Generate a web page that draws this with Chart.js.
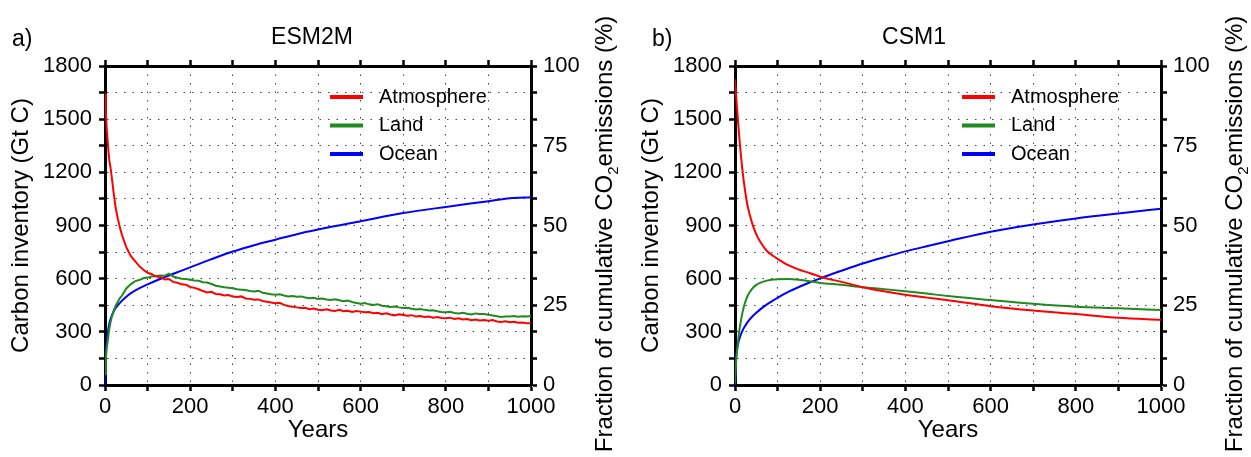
<!DOCTYPE html>
<html>
<head>
<meta charset="utf-8">
<script src="https://cdn.jsdelivr.net/npm/chart.js@4.4.1/dist/chart.umd.min.js"></script>
<style>
  body { margin: 0; background: #fff; }
  #wrap { position: relative; width: 1251px; height: 457px; }
  canvas { position: absolute; top: 0; }
  #esm { left: 0; }
  #csm { left: 630px; }
</style>
</head>
<body>
<div id="wrap">
  <canvas id="esm" width="625" height="457"></canvas>
  <canvas id="csm" width="621" height="457"></canvas>
</div>
<script>
const FONT = '"Liberation Sans", Arial, Helvetica, sans-serif';
const seriesNames = ["Atmosphere", "Land", "Ocean"];
const seriesColors = ["#ff0000", "#1f8a1f", "#0000ff"];

// ESM2M - annual model output, so atmosphere and land are noisy
const esmYears = [0, 2, 4, 6, 8, 10, 13, 16, 20, 25, 30, 35, 40, 50, 60, 70, 80, 90, 100,
  110, 120, 130, 140, 150, 160, 170, 180, 190, 200, 210, 220, 230, 240, 250, 260, 270, 280, 290, 300,
  310, 320, 330, 340, 350, 360, 370, 380, 390, 400, 410, 420, 430, 440, 450, 460, 470, 480, 490, 500,
  510, 520, 530, 540, 550, 560, 570, 580, 590, 600, 610, 620, 630, 640, 650, 660, 670, 680, 690, 700,
  710, 720, 730, 740, 750, 760, 770, 780, 790, 800, 810, 820, 830, 840, 850, 860, 870, 880, 890, 900,
  910, 920, 930, 940, 950, 960, 970, 980, 990, 1000];
const esmAtmos = [1645, 1540, 1450, 1385, 1320, 1270, 1225, 1170, 1090, 1000, 940, 888, 845, 778, 730, 700, 672, 650, 633,
  625, 612, 610, 596, 598, 582, 577, 568, 566, 553, 548, 540, 530, 522, 526, 514, 512, 505, 508, 499,
  496, 500, 488, 486, 481, 483, 474, 470, 466, 462, 464, 452, 446, 441, 438, 434, 436, 428, 432, 425,
  422, 427, 420, 418, 424, 416, 419, 412, 417, 414, 410, 412, 405, 408, 400, 405, 398, 393, 399, 395,
  391, 394, 386, 389, 384, 387, 380, 383, 378, 377, 380, 373, 376, 370, 372, 366, 369, 364, 367, 362,
  366, 358, 356, 360, 354, 357, 351, 353, 348, 349];
const esmLand = [60, 150, 205, 240, 280, 315, 355, 385, 415, 447, 470, 490, 505, 545, 568, 585, 592, 602, 606,
  612, 615, 618, 616, 628, 612, 605, 600, 598, 594, 590, 588, 580, 578, 570, 560, 556, 552, 549, 546,
  540, 538, 536, 530, 528, 532, 520, 516, 512, 509, 512, 505, 500, 502, 498, 500, 494, 490, 492, 486,
  488, 482, 480, 484, 478, 473, 476, 468, 463, 458, 462, 455, 452, 456, 447, 444, 440, 443, 438, 434,
  436, 430, 426, 429, 424, 420, 422, 416, 412, 410, 413, 406, 404, 408, 402, 398, 404, 400, 401, 396,
  392, 388, 384, 387, 386, 389, 385, 388, 386, 390];
const esmOceanYears = [0, 1, 2, 4, 6, 8, 10, 13, 16, 20, 25, 30, 40, 50, 60, 80, 100, 125, 150, 175, 200,
  250, 300, 350, 400, 450, 500, 600, 700, 800, 900, 950, 1000];
const esmOcean = [0, 130, 190, 245, 285, 318, 345, 372, 392, 413, 435, 450, 476, 498, 517, 545, 568, 594, 618, 641, 664,
  710, 753, 789, 820, 851, 877, 924, 970, 1005, 1037, 1054, 1060];

// CSM1 - smooth curves
const csmYears = [0, 1, 2, 3, 5, 7, 10, 13, 16, 20, 25, 30, 40, 50, 60, 75, 90, 100, 125, 150, 175, 200,
  250, 300, 350, 400, 450, 500, 600, 700, 800, 900, 1000];
const csmAtmos = [1725, 1690, 1655, 1620, 1555, 1490, 1400, 1320, 1245, 1160, 1075, 1005, 915, 850, 805, 756, 728, 712, 676, 651, 632, 611,
  582, 552, 529, 509, 493, 478, 445, 420, 400, 379, 368];
const csmLand = [10, 60, 105, 145, 195, 245, 305, 350, 390, 435, 475, 505, 543, 565, 578, 589, 595, 597, 598, 594, 586, 576,
  565, 551, 541, 529, 516, 502, 479, 458, 442, 433, 423];
const csmOcean = [0, 100, 140, 170, 205, 230, 258, 280, 298, 318, 338, 356, 385, 408, 428, 455, 478, 492, 525, 553, 578, 602,
  645, 686, 721, 754, 783, 811, 865, 906, 940, 968, 994];

// axis ticks: left in Gt C, right as percent of 1800 Gt C
const leftLabelStep = 300;
const rightLabelStep = 450;
const totalEmissions = 1800;
const yearLabelStep = 200;

function points(xs, ys) {
  return xs.map((x, i) => ({ x: x, y: ys[i] }));
}

// draws panel letter, title, inset legend and the rotated right-hand axis title
const panelDecor = {
  id: "panelDecor",
  afterDraw(chart, args, o) {
    const ctx = chart.ctx;
    const area = chart.chartArea;
    ctx.save();
    ctx.fillStyle = "#000";
    ctx.textBaseline = "middle";
    ctx.font = "23px " + FONT;
    ctx.textAlign = "left";
    ctx.fillText(o.tag, o.tagX, 40);
    ctx.textAlign = "center";
    ctx.fillText(o.title, o.titleX, 38);

    // legend
    ctx.font = "20px " + FONT;
    ctx.textAlign = "left";
    chart.data.datasets.forEach((ds, i) => {
      const y = 97 + i * 28.5;
      ctx.strokeStyle = ds.borderColor;
      ctx.lineWidth = 4;
      ctx.beginPath();
      ctx.moveTo(area.left + o.legendX, y);
      ctx.lineTo(area.left + o.legendX + 33, y);
      ctx.stroke();
      ctx.fillText(ds.label, area.left + o.legendX + 49, y);
    });

    // right axis title with subscript
    const big = "24px " + FONT, small = "15px " + FONT;
    const p1 = "Fraction of cumulative CO", p2 = "2", p3 = "emissions (%)";
    ctx.font = big;
    const w1 = ctx.measureText(p1).width, w3 = ctx.measureText(p3).width;
    ctx.font = small;
    const w2 = ctx.measureText(p2).width;
    ctx.translate(area.right + 81, 234);
    ctx.rotate(-Math.PI / 2);
    ctx.textBaseline = "alphabetic";
    let x = -(w1 + w2 + w3) / 2;
    ctx.font = big;
    ctx.fillText(p1, x, 0);
    x += w1;
    ctx.font = small;
    ctx.fillText(p2, x, 6);
    x += w2;
    ctx.font = big;
    ctx.fillText(p3, x, 0);
    ctx.restore();
  }
};

function makeScales(rightWidth) {
  const tickMarks = { tickColor: "#000", tickWidth: 2.5, tickLength: 6, tickBorderDash: [] };
  const border = { color: "#000", width: 3 };
  const tickFont = { family: FONT, size: 22 };
  const titleFont = { family: FONT, size: 24 };
  return {
    x: {
      type: "linear", position: "bottom", min: 0, max: 1000,
      ticks: {
        stepSize: 100, autoSkip: false, maxRotation: 0, minRotation: 0, padding: 3,
        color: "#000", font: tickFont,
        callback: v => (v % yearLabelStep === 0 ? String(v) : "")
      },
      grid: Object.assign({ color: "#444", lineWidth: 1 }, tickMarks),
      border: Object.assign({ dash: [1.5, 7] }, border),
      title: { display: true, text: "Years", color: "#000", font: titleFont, padding: { top: 0, bottom: 12 } },
      afterFit: s => { s.height = 72; }
    },
    x2: {
      type: "linear", position: "top", min: 0, max: 1000,
      ticks: { stepSize: 100, display: false, autoSkip: false },
      grid: Object.assign({ drawOnChartArea: false, color: "#000" }, tickMarks),
      border: border,
      afterFit: s => { s.height = 10; }
    },
    y: {
      type: "linear", position: "left", min: 0, max: totalEmissions,
      ticks: {
        stepSize: 150, autoSkip: false, padding: 7, color: "#000", font: tickFont,
        callback: v => (v % leftLabelStep === 0 ? String(v) : "")
      },
      grid: Object.assign({ color: "#444", lineWidth: 1 }, tickMarks),
      border: Object.assign({ dash: [1.5, 7] }, border),
      title: { display: true, text: "Carbon inventory (Gt C)", color: "#000", font: titleFont, padding: { top: 7, bottom: 0 } },
      afterFit: s => { s.width = 105; }
    },
    y2: {
      type: "linear", position: "right", min: 0, max: totalEmissions,
      ticks: {
        stepSize: 150, autoSkip: false, padding: 6, color: "#000", font: tickFont,
        callback: v => (v % rightLabelStep === 0 ? String(v / totalEmissions * 100) : "")
      },
      grid: Object.assign({ drawOnChartArea: false, color: "#000" }, tickMarks),
      border: border,
      afterFit: s => { s.width = rightWidth; }
    }
  };
}

function makePanel(id, decor, rightWidth, series) {
  new Chart(document.getElementById(id), {
    type: "line",
    data: {
      datasets: series.map((s, i) => ({
        label: seriesNames[i],
        data: points(s[0], s[1]),
        borderColor: seriesColors[i],
        backgroundColor: seriesColors[i],
        borderWidth: 2,
        pointRadius: 0,
        fill: false,
        tension: 0,
        cubicInterpolationMode: s[2] ? "monotone" : "default"
      }))
    },
    options: {
      responsive: false,
      animation: false,
      layout: { padding: { top: 56, left: 0, right: 0, bottom: 0 } },
      scales: makeScales(rightWidth),
      plugins: {
        legend: { display: false },
        tooltip: { enabled: false },
        panelDecor: decor
      }
    },
    plugins: [panelDecor]
  });
}

makePanel("esm", { tag: "a)", tagX: 12, title: "ESM2M", titleX: 312, legendX: 225 }, 94, [
  [esmYears, esmAtmos, false],
  [esmYears, esmLand, false],
  [esmOceanYears, esmOcean, true]
]);

makePanel("csm", { tag: "b)", tagX: 22, title: "CSM1", titleX: 284, legendX: 227 }, 90, [
  [csmYears, csmAtmos, true],
  [csmYears, csmLand, true],
  [csmYears, csmOcean, true]
]);
</script>
</body>
</html>
